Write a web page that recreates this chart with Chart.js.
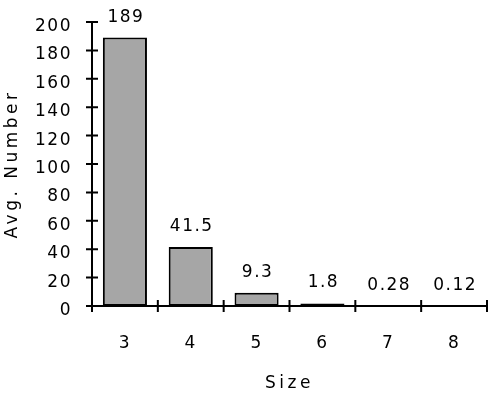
<!DOCTYPE html>
<html>
<head>
<meta charset="utf-8">
<script src="https://cdn.jsdelivr.net/npm/chart.js@4/dist/chart.umd.min.js"></script>
<style>
html,body{margin:0;padding:0;background:#fff;}
#wrap{width:488px;height:394px;}
</style>
</head>
<body>
<div id="wrap"><canvas id="c" width="488" height="394"></canvas></div>
<script>
const categories = ["3", "4", "5", "6", "7", "8"];
const avgNumber = [189, 41.5, 9.3, 1.8, 0.28, 0.12];
const valueLabels = ["189", "41.5", "9.3", "1.8", "0.28", "0.12"];
const yMin = 0, yMax = 200, yStep = 20;

const FONT = 'DejaVu Sans';

const spacingPlugin = {
  id: 'spacing',
  beforeDraw(chart) {
    const ctx = chart.ctx;
    ctx.letterSpacing = '1.5px';
    Object.values(chart.scales).forEach(s => {
      if (!s._patchedTitle) {
        const orig = s.drawTitle;
        s.drawTitle = function () {
          const c = this.ctx;
          c.save();
          c.letterSpacing = '3.5px';
          orig.apply(this, arguments);
          c.restore();
        };
        s._patchedTitle = true;
      }
    });
  }
};

const crossTicks = {
  id: 'crossTicks',
  afterDraw(chart) {
    const ctx = chart.ctx;
    const x = chart.scales.x, y = chart.scales.y;
    ctx.save();
    ctx.strokeStyle = '#000';
    ctx.lineWidth = 2;
    ctx.beginPath();
    y.ticks.forEach((t, i) => {
      const py = y.getPixelForTick(i);
      ctx.moveTo(x.left - 6, py);
      ctx.lineTo(x.left + 6, py);
    });
    const n = x.ticks.length;
    const bounds = [x.left];
    for (let i = 0; i < n - 1; i++) bounds.push((x.getPixelForTick(i) + x.getPixelForTick(i + 1)) / 2);
    bounds.push(x.right);
    bounds.forEach(px => {
      ctx.moveTo(px, y.bottom - 6);
      ctx.lineTo(px, y.bottom + 6);
    });
    ctx.stroke();
    ctx.restore();
  },
  afterDatasetsDraw(chart) {
    const ctx = chart.ctx;
    const meta = chart.getDatasetMeta(0);
    ctx.save();
    ctx.letterSpacing = '1.5px';
    ctx.font = '17px "' + FONT + '"';
    ctx.fillStyle = '#000';
    ctx.textAlign = 'center';
    ctx.textBaseline = 'alphabetic';
    meta.data.forEach((bar, i) => {
      ctx.fillText(valueLabels[i], bar.x + 1, bar.y - 16);
    });
    ctx.restore();
  }
};

new Chart(document.getElementById('c'), {
  type: 'bar',
  data: {
    labels: categories,
    datasets: [{
      data: avgNumber,
      backgroundColor: '#a6a6a6',
      borderColor: '#000',
      borderWidth: 2,
      borderSkipped: false,
      barPercentage: 0.67,
      categoryPercentage: 1.0
    }]
  },
  options: {
    responsive: false,
    animation: false,
    devicePixelRatio: 1,
    layout: { padding: { top: 22, right: 1, left: 0, bottom: 0 } },
    plugins: { legend: { display: false }, tooltip: { enabled: false } },
    scales: {
      x: {
        grid: { display: false, drawTicks: false },
        border: { display: true, color: '#000', width: 2 },
        ticks: { color: '#000', font: { family: FONT, size: 17 }, padding: 27, maxRotation: 0 },
        title: { display: true, text: 'Size', color: '#000', font: { family: FONT, size: 17 }, padding: { top: 0, bottom: 0 } },
        afterFit(s) { s.height = 88; s.paddingLeft = 0; s.paddingRight = 0; }
      },
      y: {
        min: yMin, max: yMax,
        grid: { display: false, drawTicks: false },
        border: { display: true, color: '#000', width: 2 },
        ticks: { stepSize: yStep, color: '#000', font: { family: FONT, size: 17 }, padding: 20, labelOffset: 4.5 },
        title: { display: true, text: 'Avg. Number', color: '#000', font: { family: FONT, size: 17 }, padding: { top: 2, bottom: 0 } },
        afterFit(s) { s.width = 92; s.paddingTop = 0; s.paddingBottom = 0; }
      }
    }
  },
  plugins: [spacingPlugin, crossTicks]
});
</script>
</body>
</html>
